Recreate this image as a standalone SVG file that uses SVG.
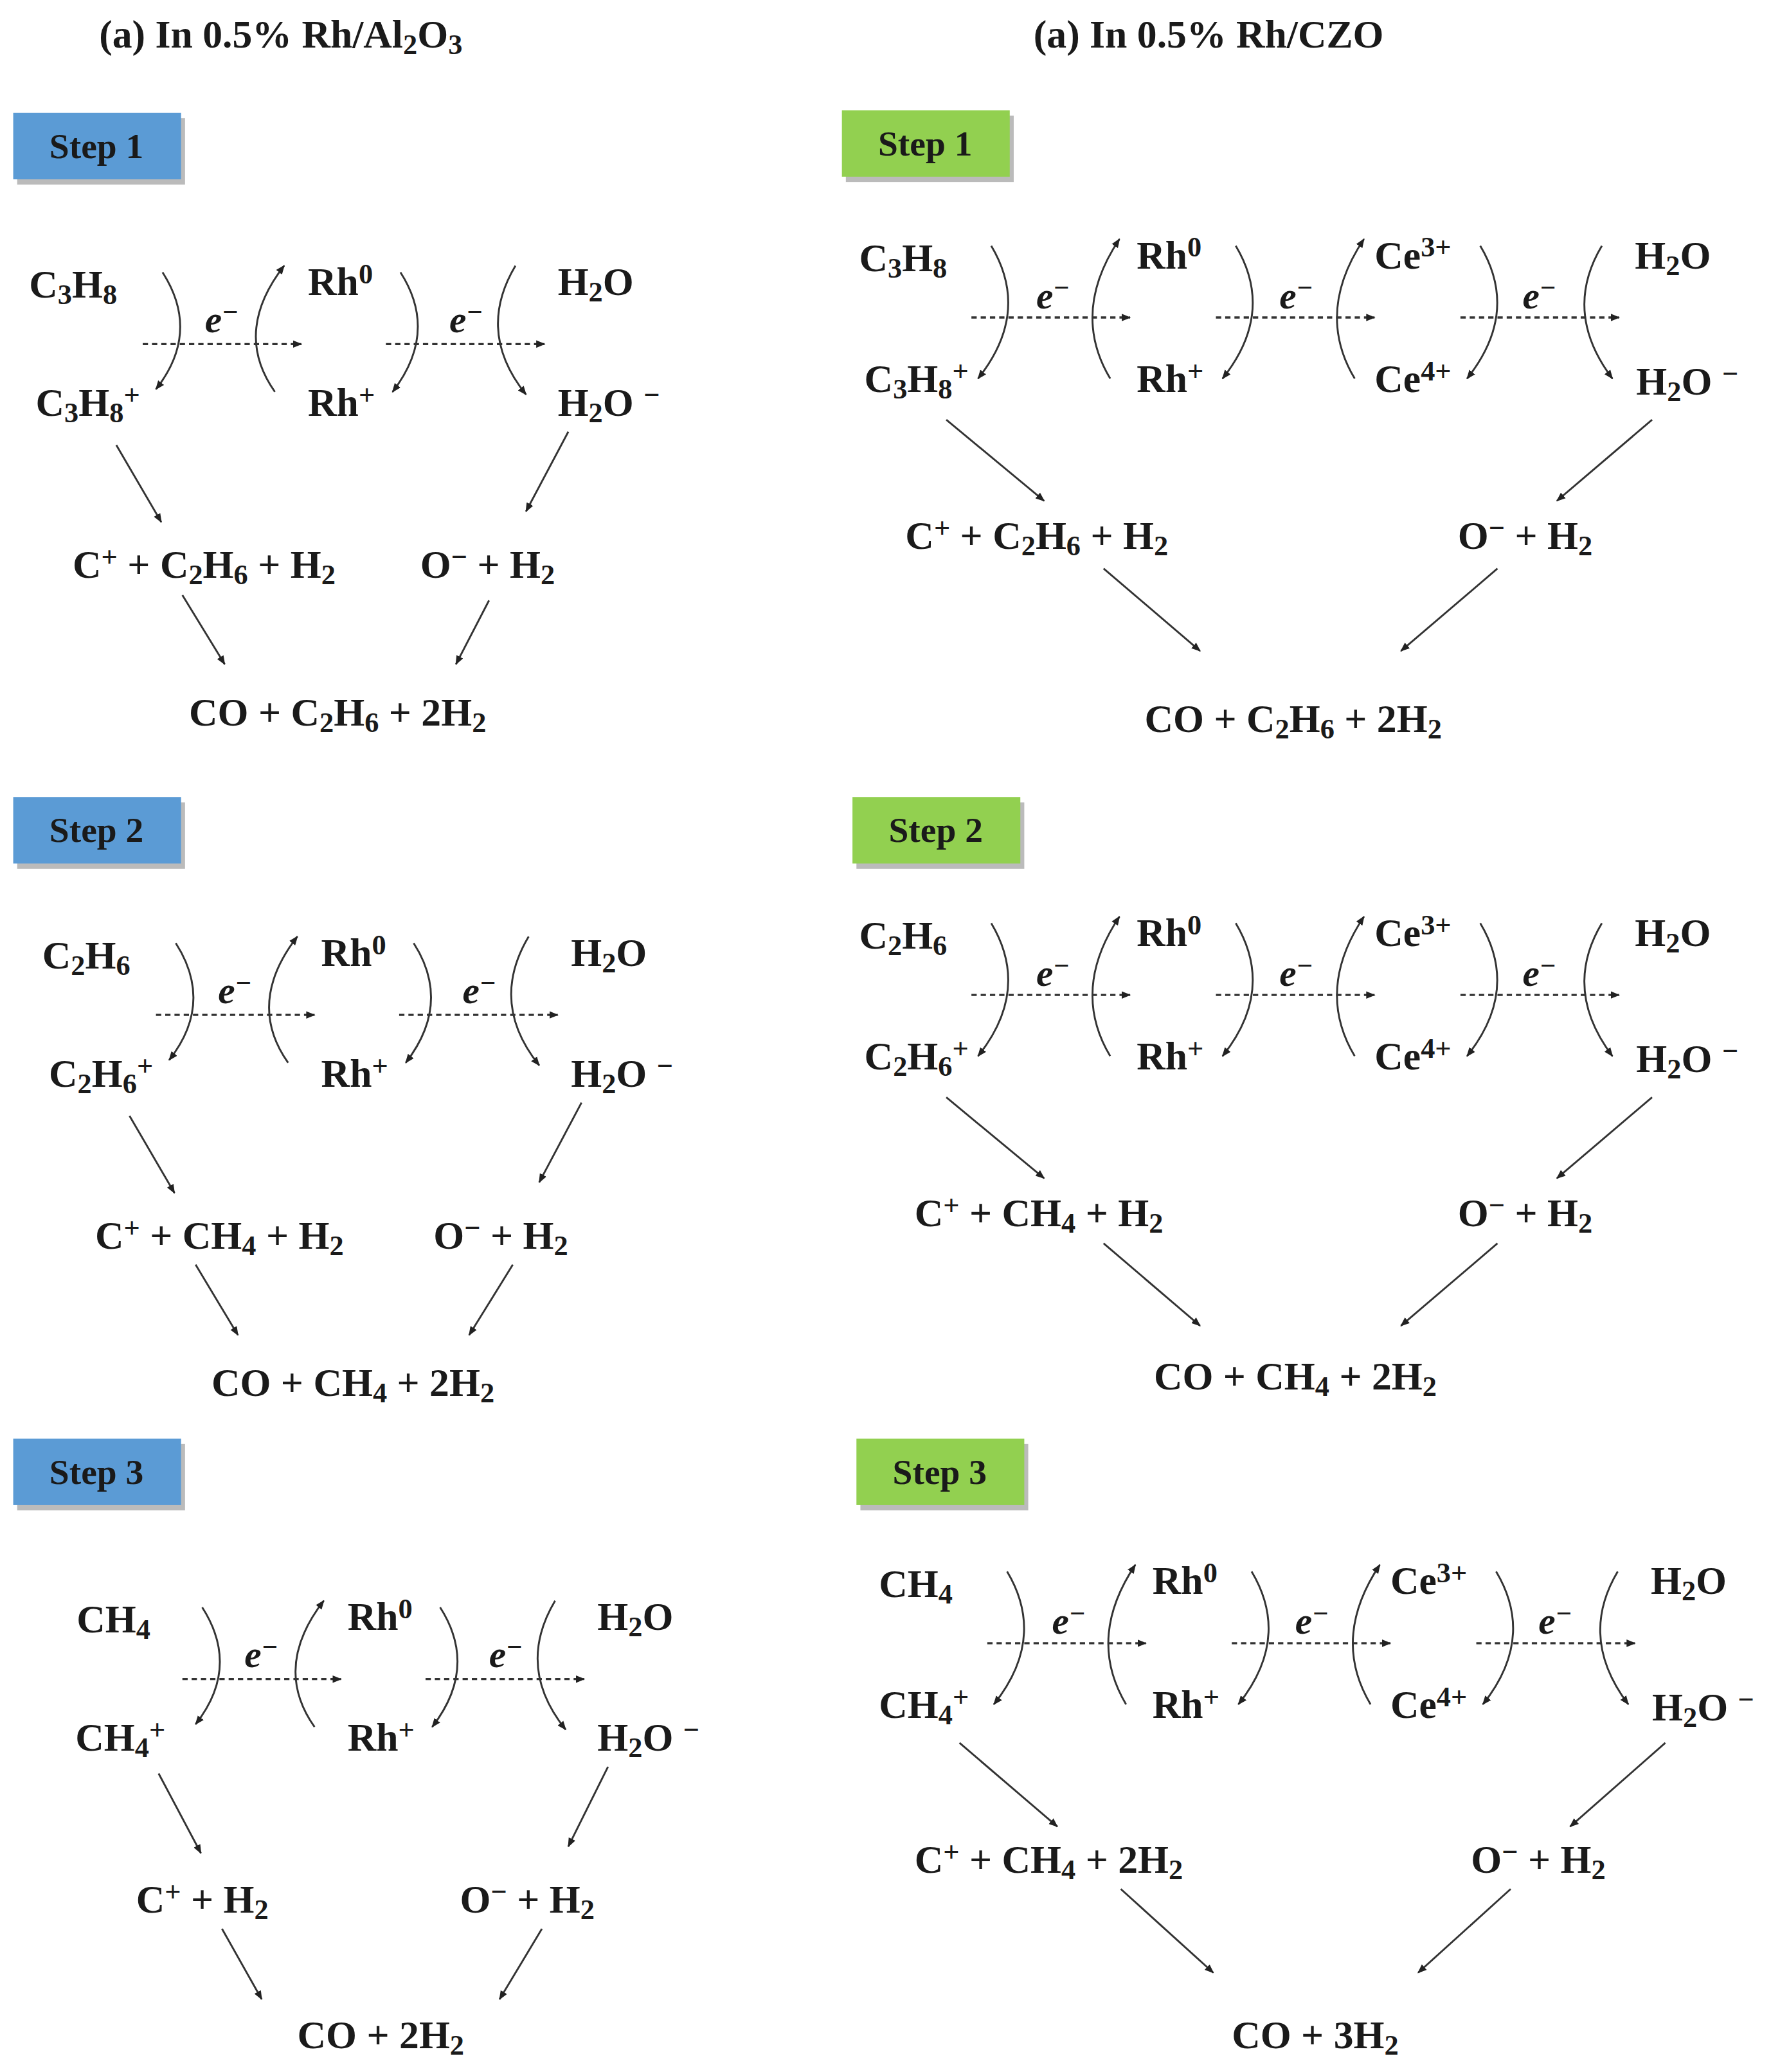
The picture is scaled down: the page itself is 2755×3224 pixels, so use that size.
<svg xmlns="http://www.w3.org/2000/svg" width="2755" height="3224" viewBox="0 0 2755 3224">
<style>
text{font-family:"Liberation Serif","DejaVu Serif",serif;font-weight:bold;font-size:30px;fill:#1a1a1a}
.h{font-size:30px}
.st{font-size:27px;text-anchor:middle}
.e{font-style:italic;font-size:29px}
.s{font-size:72%;baseline-shift:-0.22em}
.p{font-size:72%;baseline-shift:0.4em}
.c{fill:none;stroke:#333;stroke-width:1.4;marker-end:url(#a)}
.d{fill:none;stroke:#333;stroke-width:1.6;stroke-dasharray:4 3;marker-end:url(#a)}
.box1{fill:#5b9bd5}.box2{fill:#92d050}.sh{fill:#bbb}
</style>
<defs>
<marker id="a" viewBox="0 0 10 10" refX="9" refY="5" markerWidth="7" markerHeight="7" markerUnits="userSpaceOnUse" orient="auto"><path d="M0,1 L10,5 L0,9 z" fill="#222"/></marker>
</defs>
<rect width="2755" height="3224" fill="#fff"/>
<g transform="scale(2.056,2.067)">
<g id="headers">
<text class="h" x="75" y="36">(a) In 0.5% Rh/Al<tspan class="s">2</tspan>O<tspan class="s">3</tspan></text>
<text class="h" x="782" y="36">(a) In 0.5% Rh/CZO</text>
</g>
<g id="steps">
<rect class="sh" x="13" y="89" width="127" height="50"/><rect class="box1" x="10" y="85" width="127" height="50"/><text class="st" x="73" y="119">Step 1</text>
<rect class="sh" x="13" y="604" width="127" height="50"/><rect class="box1" x="10" y="600" width="127" height="50"/><text class="st" x="73" y="634">Step 2</text>
<rect class="sh" x="13" y="1087" width="127" height="50"/><rect class="box1" x="10" y="1083" width="127" height="50"/><text class="st" x="73" y="1117">Step 3</text>
<rect class="sh" x="640" y="87" width="127" height="50"/><rect class="box2" x="637" y="83" width="127" height="50"/><text class="st" x="700" y="117">Step 1</text>
<rect class="sh" x="648" y="604" width="127" height="50"/><rect class="box2" x="645" y="600" width="127" height="50"/><text class="st" x="708" y="634">Step 2</text>
<rect class="sh" x="651" y="1087" width="127" height="50"/><rect class="box2" x="648" y="1083" width="127" height="50"/><text class="st" x="711" y="1117">Step 3</text>
</g>

<g id="L1">
<text x="22" y="224">C<tspan class="s">3</tspan>H<tspan class="s">8</tspan></text>
<text x="233" y="222">Rh<tspan class="p">0</tspan></text>
<text x="422" y="222">H<tspan class="s">2</tspan>O</text>
<text x="27" y="313">C<tspan class="s">3</tspan>H<tspan class="s">8</tspan><tspan class="p">+</tspan></text>
<text x="233" y="313">Rh<tspan class="p">+</tspan></text>
<text x="422" y="313">H<tspan class="s">2</tspan>O <tspan class="p">−</tspan></text>
<text class="e" x="155" y="250">e<tspan class="p">−</tspan></text>
<text class="e" x="340" y="250">e<tspan class="p">−</tspan></text>
<text x="55" y="435">C<tspan class="p">+</tspan> + C<tspan class="s">2</tspan>H<tspan class="s">6</tspan> + H<tspan class="s">2</tspan></text>
<text x="318" y="435">O<tspan class="p">−</tspan> + H<tspan class="s">2</tspan></text>
<text x="143" y="546">CO + C<tspan class="s">2</tspan>H<tspan class="s">6</tspan> + 2H<tspan class="s">2</tspan></text>
</g>
<g id="L2">
<text x="32" y="729">C<tspan class="s">2</tspan>H<tspan class="s">6</tspan></text>
<text x="243" y="727">Rh<tspan class="p">0</tspan></text>
<text x="432" y="727">H<tspan class="s">2</tspan>O</text>
<text x="37" y="818">C<tspan class="s">2</tspan>H<tspan class="s">6</tspan><tspan class="p">+</tspan></text>
<text x="243" y="818">Rh<tspan class="p">+</tspan></text>
<text x="432" y="818">H<tspan class="s">2</tspan>O <tspan class="p">−</tspan></text>
<text class="e" x="165" y="755">e<tspan class="p">−</tspan></text>
<text class="e" x="350" y="755">e<tspan class="p">−</tspan></text>
<text x="72" y="940">C<tspan class="p">+</tspan> + CH<tspan class="s">4</tspan> + H<tspan class="s">2</tspan></text>
<text x="328" y="940">O<tspan class="p">−</tspan> + H<tspan class="s">2</tspan></text>
<text x="160" y="1051">CO + CH<tspan class="s">4</tspan> + 2H<tspan class="s">2</tspan></text>
</g>
<g id="L3">
<text x="58" y="1229">CH<tspan class="s">4</tspan></text>
<text x="263" y="1227">Rh<tspan class="p">0</tspan></text>
<text x="452" y="1227">H<tspan class="s">2</tspan>O</text>
<text x="57" y="1318">CH<tspan class="s">4</tspan><tspan class="p">+</tspan></text>
<text x="263" y="1318">Rh<tspan class="p">+</tspan></text>
<text x="452" y="1318">H<tspan class="s">2</tspan>O <tspan class="p">−</tspan></text>
<text class="e" x="185" y="1255">e<tspan class="p">−</tspan></text>
<text class="e" x="370" y="1255">e<tspan class="p">−</tspan></text>
<text x="103" y="1440">C<tspan class="p">+</tspan> + H<tspan class="s">2</tspan></text>
<text x="348" y="1440">O<tspan class="p">−</tspan> + H<tspan class="s">2</tspan></text>
<text x="225" y="1542">CO + 2H<tspan class="s">2</tspan></text>
</g>

<g id="R1">
<text x="650" y="204">C<tspan class="s">3</tspan>H<tspan class="s">8</tspan></text>
<text x="860" y="202">Rh<tspan class="p">0</tspan></text>
<text x="1040" y="202">Ce<tspan class="p">3+</tspan></text>
<text x="1237" y="202">H<tspan class="s">2</tspan>O</text>
<text x="654" y="295">C<tspan class="s">3</tspan>H<tspan class="s">8</tspan><tspan class="p">+</tspan></text>
<text x="860" y="295">Rh<tspan class="p">+</tspan></text>
<text x="1040" y="295">Ce<tspan class="p">4+</tspan></text>
<text x="1238" y="297">H<tspan class="s">2</tspan>O <tspan class="p">−</tspan></text>
<text class="e" x="784" y="232">e<tspan class="p">−</tspan></text>
<text class="e" x="968" y="232">e<tspan class="p">−</tspan></text>
<text class="e" x="1152" y="232">e<tspan class="p">−</tspan></text>
<text x="685" y="413">C<tspan class="p">+</tspan> + C<tspan class="s">2</tspan>H<tspan class="s">6</tspan> + H<tspan class="s">2</tspan></text>
<text x="1103" y="413">O<tspan class="p">−</tspan> + H<tspan class="s">2</tspan></text>
<text x="866" y="551">CO + C<tspan class="s">2</tspan>H<tspan class="s">6</tspan> + 2H<tspan class="s">2</tspan></text>
</g>
<g id="R2">
<text x="650" y="714">C<tspan class="s">2</tspan>H<tspan class="s">6</tspan></text>
<text x="860" y="712">Rh<tspan class="p">0</tspan></text>
<text x="1040" y="712">Ce<tspan class="p">3+</tspan></text>
<text x="1237" y="712">H<tspan class="s">2</tspan>O</text>
<text x="654" y="805">C<tspan class="s">2</tspan>H<tspan class="s">6</tspan><tspan class="p">+</tspan></text>
<text x="860" y="805">Rh<tspan class="p">+</tspan></text>
<text x="1040" y="805">Ce<tspan class="p">4+</tspan></text>
<text x="1238" y="807">H<tspan class="s">2</tspan>O <tspan class="p">−</tspan></text>
<text class="e" x="784" y="742">e<tspan class="p">−</tspan></text>
<text class="e" x="968" y="742">e<tspan class="p">−</tspan></text>
<text class="e" x="1152" y="742">e<tspan class="p">−</tspan></text>
<text x="692" y="923">C<tspan class="p">+</tspan> + CH<tspan class="s">4</tspan> + H<tspan class="s">2</tspan></text>
<text x="1103" y="923">O<tspan class="p">−</tspan> + H<tspan class="s">2</tspan></text>
<text x="873" y="1046">CO + CH<tspan class="s">4</tspan> + 2H<tspan class="s">2</tspan></text>
</g>
<g id="R3">
<text x="665" y="1202">CH<tspan class="s">4</tspan></text>
<text x="872" y="1200">Rh<tspan class="p">0</tspan></text>
<text x="1052" y="1200">Ce<tspan class="p">3+</tspan></text>
<text x="1249" y="1200">H<tspan class="s">2</tspan>O</text>
<text x="665" y="1293">CH<tspan class="s">4</tspan><tspan class="p">+</tspan></text>
<text x="872" y="1293">Rh<tspan class="p">+</tspan></text>
<text x="1052" y="1293">Ce<tspan class="p">4+</tspan></text>
<text x="1250" y="1295">H<tspan class="s">2</tspan>O <tspan class="p">−</tspan></text>
<text class="e" x="796" y="1230">e<tspan class="p">−</tspan></text>
<text class="e" x="980" y="1230">e<tspan class="p">−</tspan></text>
<text class="e" x="1164" y="1230">e<tspan class="p">−</tspan></text>
<text x="692" y="1410">C<tspan class="p">+</tspan> + CH<tspan class="s">4</tspan> + 2H<tspan class="s">2</tspan></text>
<text x="1113" y="1410">O<tspan class="p">−</tspan> + H<tspan class="s">2</tspan></text>
<text x="932" y="1542">CO + 3H<tspan class="s">2</tspan></text>
</g>

<g id="connectors">
<g id="lm">
<path class="d" d="M108,259 H228"/>
<path class="d" d="M292,259 H412"/>
<path class="c" d="M123,205 Q152,250 118,293"/>
<path class="c" d="M208,295 Q176,250 215,200"/>
<path class="c" d="M303,205 Q332,250 297,295"/>
<path class="c" d="M390,200 Q360,250 398,297"/>
</g>
<use href="#lm" transform="translate(10,505)"/>
<use href="#lm" transform="translate(30,1005)"/>
<path class="c" d="M88,335 L122,393"/><path class="c" d="M430,325 L398,385"/>
<path class="c" d="M138,448 L170,500"/><path class="c" d="M370,452 L345,500"/>
<path class="c" d="M98,840 L132,898"/><path class="c" d="M440,830 L408,890"/>
<path class="c" d="M148,952 L180,1005"/><path class="c" d="M388,952 L355,1005"/>
<path class="c" d="M120,1335 L152,1395"/><path class="c" d="M460,1330 L430,1390"/>
<path class="c" d="M168,1452 L198,1505"/><path class="c" d="M410,1452 L378,1505"/>
<g id="rm">
<path class="d" d="M735,239 H855"/>
<path class="d" d="M920,239 H1040"/>
<path class="d" d="M1105,239 H1225"/>
<path class="c" d="M750,185 Q780,235 740,285"/>
<path class="c" d="M840,285 Q810,235 847,180"/>
<path class="c" d="M935,185 Q965,235 925,285"/>
<path class="c" d="M1025,285 Q995,235 1032,180"/>
<path class="c" d="M1120,185 Q1150,235 1110,285"/>
<path class="c" d="M1212,185 Q1182,235 1220,285"/>
</g>
<use href="#rm" transform="translate(0,510)"/>
<use href="#rm" transform="translate(12,998)"/>
<path class="c" d="M716,316 L790,377"/><path class="c" d="M1250,316 L1178,377"/>
<path class="c" d="M835,428 L908,490"/><path class="c" d="M1133,428 L1060,490"/>
<path class="c" d="M716,826 L790,887"/><path class="c" d="M1250,826 L1178,887"/>
<path class="c" d="M835,936 L908,998"/><path class="c" d="M1133,936 L1060,998"/>
<path class="c" d="M726,1312 L800,1375"/><path class="c" d="M1260,1312 L1188,1375"/>
<path class="c" d="M848,1422 L918,1485"/><path class="c" d="M1143,1422 L1073,1485"/>
</g>
</g>
</svg>
